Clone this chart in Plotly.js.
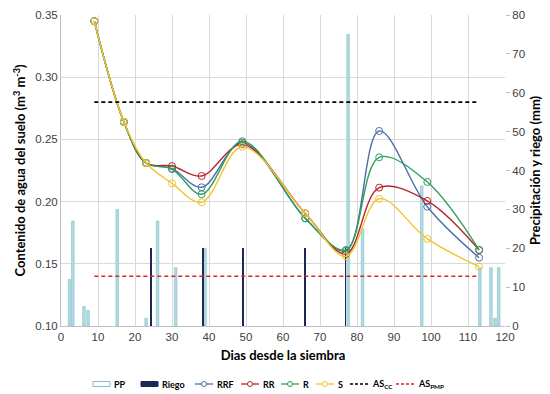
<!DOCTYPE html>
<html>
<head>
<meta charset="utf-8">
<script src="https://cdn.plot.ly/plotly-3.0.1.min.js"></script>
<style>html,body{margin:0;padding:0;background:#fff;}#chart{width:550px;height:394px;}</style>
</head>
<body>
<div id="chart"></div>
<script>
// Precipitation (PP) bars, mm
const ppDays = [2.3, 3.2, 6.2, 7.3, 15.2, 23, 26.1, 31, 38.9, 77.6, 81.5, 97.5, 113.2, 116.2, 117.3, 118.3];
const ppMm   = [12, 27, 5, 4, 30, 2, 27, 15, 20, 75, 25, 36, 15, 15, 2, 15];
// Irrigation (Riego) bars, mm
const riegoDays = [24.4, 38.3, 49.2, 65.9, 76.9];
const riegoMm   = [20, 20, 20, 20, 20];
// Soil water content series
const days = [9, 17, 23, 30, 38, 49, 66, 77, 86, 99, 113];
const RRF = [0.345, 0.264, 0.231, 0.2265, 0.2115, 0.2473, 0.1866, 0.1605, 0.2568, 0.1959, 0.1549];
const RR  = [0.345, 0.264, 0.231, 0.2286, 0.2206, 0.2460, 0.1906, 0.1580, 0.2112, 0.2005, 0.1610];
const R   = [0.345, 0.264, 0.231, 0.2262, 0.2059, 0.2485, 0.1866, 0.1611, 0.2356, 0.2158, 0.1612];
const S   = [0.345, 0.264, 0.231, 0.2147, 0.1994, 0.2441, 0.1906, 0.1560, 0.2023, 0.1700, 0.1477];
// Reference levels
const refDays = [9, 113];
const AScc  = [0.28, 0.28];
const ASpmp = [0.14, 0.14];

const colors = {PP: '#b3dbe1', PPline: '#7fbfca', Riego: '#1b2a55', RRF: '#4a6fa8', RR: '#b3262b',
                R: '#2f9e5a', S: '#efc62e', CC: '#000000', PMP: '#e02424'};

const lineTrace = (name, y, color) => ({
  x: days, y: y, name: name, type: 'scatter', mode: 'lines+markers', yaxis: 'y2',
  line: {color: color, width: 1.4, shape: 'spline', smoothing: 1},
  marker: {symbol: 'circle-open', size: 7, color: color, line: {width: 1}}
});

const data = [
  {x: ppDays, y: ppMm, name: 'PP', type: 'bar', width: 0.7,
   marker: {color: colors.PP, line: {color: colors.PPline, width: 0.6}}},
  {x: riegoDays, y: riegoMm, name: 'Riego', type: 'bar', width: 0.5,
   marker: {color: colors.Riego, line: {width: 0}}},
  lineTrace('RRF', RRF, colors.RRF),
  lineTrace('RR', RR, colors.RR),
  lineTrace('R', R, colors.R),
  lineTrace('S', S, colors.S),
  {x: refDays, y: AScc, name: 'AS<sub>CC</sub>', type: 'scatter', mode: 'lines', yaxis: 'y2',
   line: {color: colors.CC, width: 1.6, dash: '4px,3px'}},
  {x: refDays, y: ASpmp, name: 'AS<sub>PMP</sub>', type: 'scatter', mode: 'lines', yaxis: 'y2',
   line: {color: colors.PMP, width: 1.6, dash: '4px,3px'}}
];

// ---- custom legend (one compact row, like the reference) ----
const M = {l: 61, r: 45, t: 15, b: 68};
const PW = 550 - M.l - M.r, PH = 394 - M.t - M.b;
const px = v => (v - M.l) / PW;          // pixel x -> paper x
const py = v => (394 - M.b - v) / PH;    // pixel y -> paper y
const LY = 384;
const legendItems = [
  {label: 'PP', kind: 'box', x: 93},
  {label: 'Riego', kind: 'fill', x: 141},
  {label: 'RRF', kind: 'mark', color: colors.RRF, x: 195},
  {label: 'RR', kind: 'mark', color: colors.RR, x: 241},
  {label: 'R', kind: 'mark', color: colors.R, x: 281},
  {label: 'S', kind: 'mark', color: colors.S, x: 316},
  {label: 'AS<sub>CC</sub>', kind: 'dash', color: colors.CC, x: 350},
  {label: 'AS<sub>PMP</sub>', kind: 'dash', color: colors.PMP, x: 396}
];
const shapes = [], annotations = [];
legendItems.forEach(it => {
  const sw = it.kind === 'box' || it.kind === 'fill' ? 17 : 18;
  if (it.kind === 'box' || it.kind === 'fill') {
    shapes.push({type: 'rect', xref: 'paper', yref: 'paper',
      x0: px(it.x), x1: px(it.x + sw), y0: py(LY + 2.5), y1: py(LY - 2.5),
      fillcolor: it.kind === 'box' ? '#ffffff' : colors.Riego,
      line: {color: it.kind === 'box' ? colors.PPline : colors.Riego, width: 1}});
  } else if (it.kind === 'mark') {
    shapes.push({type: 'line', xref: 'paper', yref: 'paper',
      x0: px(it.x), x1: px(it.x + sw), y0: py(LY), y1: py(LY),
      line: {color: it.color, width: 1.3}});
    shapes.push({type: 'circle', xref: 'paper', yref: 'paper',
      x0: px(it.x + sw / 2 - 2.5), x1: px(it.x + sw / 2 + 2.5), y0: py(LY + 2.5), y1: py(LY - 2.5),
      fillcolor: '#ffffff', line: {color: it.color, width: 1}});
  } else {
    shapes.push({type: 'line', xref: 'paper', yref: 'paper',
      x0: px(it.x), x1: px(it.x + sw), y0: py(LY), y1: py(LY),
      line: {color: it.color, width: 1.5, dash: '3px,2px'}});
  }
  annotations.push({xref: 'paper', yref: 'paper', x: px(it.x + sw + 2), y: py(LY),
    xanchor: 'left', yanchor: 'middle', showarrow: false, text: it.label,
    font: {family: 'Lato, Open Sans, sans-serif', size: 9, color: '#000', weight: 'bold'}});
});

const tickFont = {family: 'Liberation Sans, Arial, sans-serif', size: 11.5, color: '#404040'};
const titleFont = {family: 'Lato, Open Sans, sans-serif', size: 13, color: '#000', weight: 'bold'};

const layout = {
  width: 550, height: 394,
  margin: M,
  paper_bgcolor: '#fff', plot_bgcolor: '#fff',
  showlegend: false,
  barmode: 'overlay',
  bargap: 0,
  shapes: shapes,
  annotations: annotations,
  xaxis: {
    range: [0, 120], dtick: 10, tick0: 0,
    showgrid: true, gridcolor: '#d9d9d9', gridwidth: 1,
    showline: true, linecolor: '#bfbfbf', linewidth: 1,
    ticks: '', tickfont: tickFont, zeroline: false,
    title: {text: 'Dias desde la siembra', font: titleFont, standoff: 9}
  },
  yaxis: {
    range: [0, 80], dtick: 10, side: 'right',
    showgrid: false, zeroline: false, showline: false,
    ticks: 'outside', ticklen: 4, tickcolor: '#bfbfbf',
    tickfont: tickFont,
    title: {text: 'Precipitación y riego (mm)', font: titleFont, standoff: 6}
  },
  yaxis2: {
    overlaying: 'y', side: 'left',
    range: [0.10, 0.35], dtick: 0.05, tick0: 0.10, tickformat: '.2f',
    showgrid: true, gridcolor: '#d9d9d9', gridwidth: 1,
    showline: true, linecolor: '#bfbfbf', linewidth: 1,
    zeroline: false, ticks: '', tickfont: tickFont,
    title: {text: 'Contenido de agua del suelo (m<sup>3</sup> m<sup>-3</sup>)', font: titleFont, standoff: 6}
  }
};

Plotly.newPlot('chart', data, layout, {displayModeBar: false, staticPlot: true});
</script>
</body>
</html>
